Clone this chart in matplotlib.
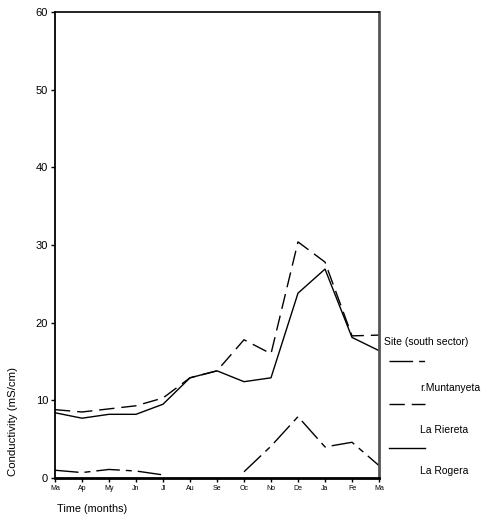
import matplotlib
matplotlib.use("Agg")
import matplotlib.pyplot as plt
import numpy as np
from matplotlib.lines import Line2D

plt.rcParams["font.family"] = ["Liberation Sans", "DejaVu Sans"]

months = ["Ma", "Ap", "My", "Jn", "Jl", "Au", "Se", "Oc", "No", "De", "Ja", "Fe", "Ma"]
muntanyeta = [1.0, 0.7, 1.1, 0.9, 0.4, np.nan, np.nan, 0.8, 4.1, 7.9, 4.0, 4.6, 1.6]
riereta = [8.8, 8.5, 8.9, 9.3, 10.3, 12.9, 13.8, 17.8, 16.0, 30.4, 27.8, 18.3, 18.4]
rogera = [8.4, 7.7, 8.2, 8.2, 9.5, 12.9, 13.8, 12.4, 12.9, 23.8, 26.9, 18.1, 16.4]

sites = ["r.Muntanyeta", "La Riereta", "La Rogera"]
styles = [(0, (17, 4.3, 4.3, 4.3)), (0, (11, 5)), "-"]

W, H = 483, 520
fig = plt.figure(figsize=(W / 100, H / 100), dpi=100)
ax = fig.add_axes([55 / W, 1 - 478 / H, 324 / W, 466 / H])

x = np.arange(len(months))
for vals, ls in zip([muntanyeta, riereta, rogera], styles):
    ax.plot(x, vals, color="black", lw=1.0, linestyle=ls)

ax.set_xlim(0, len(months) - 1)
ax.set_ylim(0, 60)
ax.set_xticks(x)
ax.set_xticklabels(months, fontsize=5)
ax.set_yticks(range(0, 61, 10))
ax.tick_params(axis="y", labelsize=8, length=3, width=1, pad=2)
ax.tick_params(axis="x", length=3, width=1, pad=2)

ax.spines["left"].set_linewidth(1.3)
ax.spines["bottom"].set_linewidth(2.0)
ax.spines["top"].set_linewidth(1.2)
ax.spines["right"].set_linewidth(2.0)
ax.spines["right"].set_color("#555555")

fig.text(57 / W, 1 - 509 / H, "Time (months)", fontsize=7.8, ha="left", va="center")
fig.text(13 / W, 1 - 422 / H, "Conductivity (mS/cm)", fontsize=8.2,
         rotation=90, ha="center", va="center")

# legend, drawn by hand to the right of the plot
fig.text(384 / W, 1 - 342 / H, "Site (south sector)", fontsize=7.5, ha="left", va="center")
sample_y = [361, 404, 448]
label_y = [388, 430, 471]
for name, ls, sy, ly in zip(sites, styles, sample_y, label_y):
    fig.add_artist(Line2D([389 / W, 425 / W], [1 - sy / H, 1 - sy / H],
                          color="black", lw=1.0, linestyle=ls,
                          transform=fig.transFigure))
    fig.text(420 / W, 1 - ly / H, name, fontsize=7.5, ha="left", va="center")

fig.savefig("out.png", dpi=100)
